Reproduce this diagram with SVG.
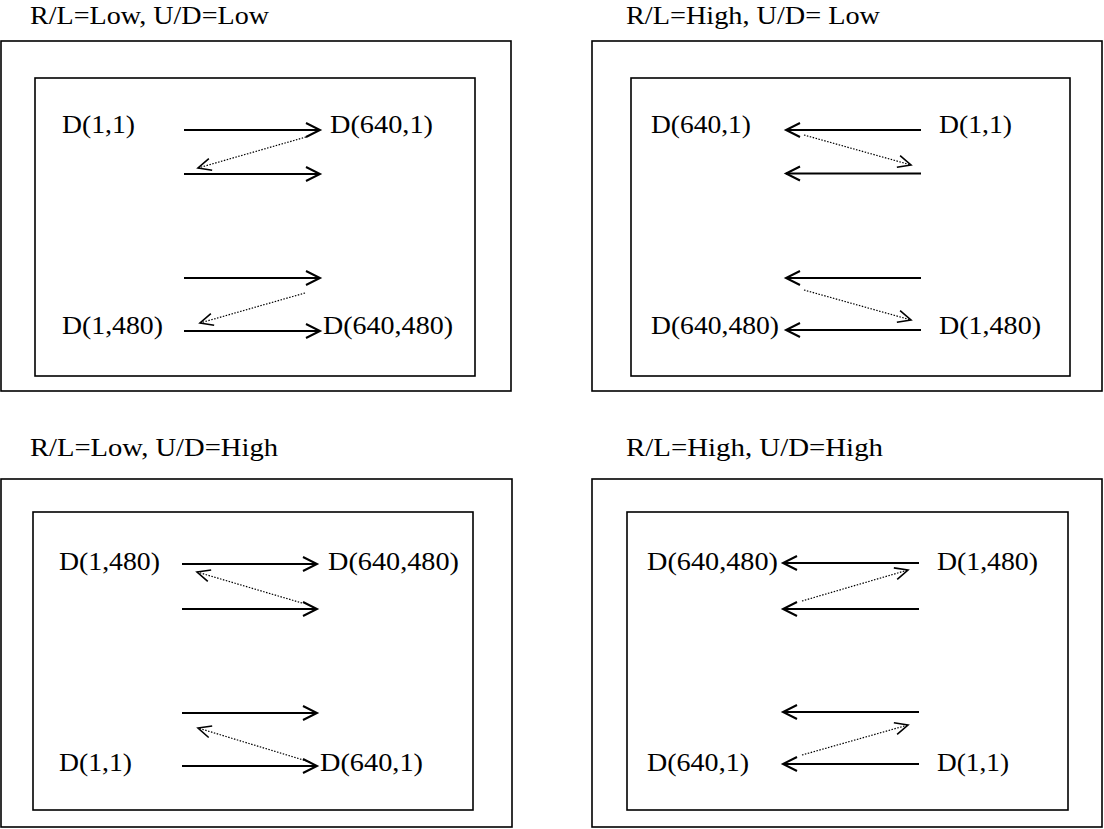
<svg xmlns="http://www.w3.org/2000/svg" width="1104" height="829" viewBox="0 0 1104 829">
<style>
  .frame { fill: none; stroke: #000; stroke-width: 1.6; }
  .arrow { fill: none; stroke: #000; stroke-width: 2; marker-end: url(#head); }
  .dot { fill: none; stroke: #000; stroke-width: 1.2; stroke-dasharray: 1.5 1.5; marker-end: url(#headThin); }
  text { font-family: "Liberation Serif", "Times New Roman", serif; font-size: 25.5px; fill: #000; }
</style>
<defs>
  <marker id="head" markerUnits="userSpaceOnUse" markerWidth="20" markerHeight="18" refX="15" refY="8" orient="auto">
    <path d="M1,1 L15,8 L1,15" fill="none" stroke="#000" stroke-width="2"/>
  </marker>
  <marker id="headThin" markerUnits="userSpaceOnUse" markerWidth="20" markerHeight="18" refX="15" refY="8" orient="auto">
    <path d="M2,2 L15,8 L2,14" fill="none" stroke="#000" stroke-width="1.6"/>
  </marker>
</defs>
<rect width="1104" height="829" fill="#fff"/>

<!-- Top-left panel -->
<g id="panel-rl-low-ud-low">
  <text x="30" y="24" textLength="239" lengthAdjust="spacingAndGlyphs">R/L=Low, U/D=Low</text>
  <rect class="frame" x="1" y="41" width="510" height="350"/>
  <rect class="frame" x="35" y="78" width="440" height="298"/>
  <text x="62" y="133" textLength="73" lengthAdjust="spacingAndGlyphs">D(1,1)</text>
  <text x="330" y="133" textLength="103" lengthAdjust="spacingAndGlyphs">D(640,1)</text>
  <text x="62" y="334" textLength="101" lengthAdjust="spacingAndGlyphs">D(1,480)</text>
  <text x="323" y="334" textLength="130" lengthAdjust="spacingAndGlyphs">D(640,480)</text>
</g>

<!-- Top-right panel -->
<g id="panel-rl-high-ud-low">
  <text x="626" y="24" textLength="254" lengthAdjust="spacingAndGlyphs">R/L=High, U/D= Low</text>
  <rect class="frame" x="592" y="41" width="510" height="350"/>
  <rect class="frame" x="631" y="78" width="439" height="298"/>
  <text x="651" y="133" textLength="100" lengthAdjust="spacingAndGlyphs">D(640,1)</text>
  <text x="939" y="133" textLength="73" lengthAdjust="spacingAndGlyphs">D(1,1)</text>
  <text x="651" y="334" textLength="128" lengthAdjust="spacingAndGlyphs">D(640,480)</text>
  <text x="939" y="334" textLength="102" lengthAdjust="spacingAndGlyphs">D(1,480)</text>
</g>

<!-- Bottom-left panel -->
<g id="panel-rl-low-ud-high">
  <text x="30" y="456" textLength="248" lengthAdjust="spacingAndGlyphs">R/L=Low, U/D=High</text>
  <rect class="frame" x="1" y="479" width="511" height="348"/>
  <rect class="frame" x="33" y="512" width="440" height="298"/>
  <text x="59" y="570" textLength="101" lengthAdjust="spacingAndGlyphs">D(1,480)</text>
  <text x="328" y="570" textLength="131" lengthAdjust="spacingAndGlyphs">D(640,480)</text>
  <text x="59" y="771" textLength="73" lengthAdjust="spacingAndGlyphs">D(1,1)</text>
  <text x="320" y="771" textLength="103" lengthAdjust="spacingAndGlyphs">D(640,1)</text>
</g>

<!-- Bottom-right panel -->
<g id="panel-rl-high-ud-high">
  <text x="626" y="456" textLength="257" lengthAdjust="spacingAndGlyphs">R/L=High, U/D=High</text>
  <rect class="frame" x="592" y="479" width="510" height="348"/>
  <rect class="frame" x="627" y="512" width="441" height="298"/>
  <text x="647" y="570" textLength="131" lengthAdjust="spacingAndGlyphs">D(640,480)</text>
  <text x="937" y="570" textLength="101" lengthAdjust="spacingAndGlyphs">D(1,480)</text>
  <text x="647" y="771" textLength="102" lengthAdjust="spacingAndGlyphs">D(640,1)</text>
  <text x="937" y="771" textLength="72" lengthAdjust="spacingAndGlyphs">D(1,1)</text>
</g>

<!-- Connectors -->
<g id="connectors">
  <!-- top-left -->
  <line class="arrow" x1="184" y1="130" x2="320" y2="130"/>
  <line class="arrow" x1="184" y1="174" x2="320" y2="174"/>
  <line class="arrow" x1="184" y1="278" x2="320" y2="278"/>
  <line class="arrow" x1="184" y1="331" x2="320" y2="331"/>
  <line class="dot" x1="306" y1="137" x2="198" y2="168"/>
  <line class="dot" x1="305" y1="293" x2="200" y2="323"/>
  <!-- top-right -->
  <line class="arrow" x1="921" y1="130" x2="786" y2="130"/>
  <line class="arrow" x1="921" y1="173.5" x2="786" y2="173.5"/>
  <line class="arrow" x1="921" y1="278" x2="786" y2="278"/>
  <line class="arrow" x1="921" y1="330" x2="786" y2="330"/>
  <line class="dot" x1="804" y1="135" x2="911" y2="165"/>
  <line class="dot" x1="804" y1="290" x2="911" y2="320"/>
  <!-- bottom-left -->
  <line class="arrow" x1="182" y1="564" x2="317" y2="564"/>
  <line class="arrow" x1="182" y1="609" x2="317" y2="609"/>
  <line class="arrow" x1="182" y1="713" x2="317" y2="713"/>
  <line class="arrow" x1="182" y1="766" x2="317" y2="766"/>
  <line class="dot" x1="302" y1="603" x2="197" y2="572"/>
  <line class="dot" x1="310" y1="762" x2="198" y2="728"/>
  <!-- bottom-right -->
  <line class="arrow" x1="919" y1="563" x2="783" y2="563"/>
  <line class="arrow" x1="919" y1="609" x2="783" y2="609"/>
  <line class="arrow" x1="919" y1="712" x2="783" y2="712"/>
  <line class="arrow" x1="919" y1="764" x2="783" y2="764"/>
  <line class="dot" x1="802" y1="601" x2="908" y2="570"/>
  <line class="dot" x1="802" y1="755" x2="908" y2="725"/>
</g>
</svg>
